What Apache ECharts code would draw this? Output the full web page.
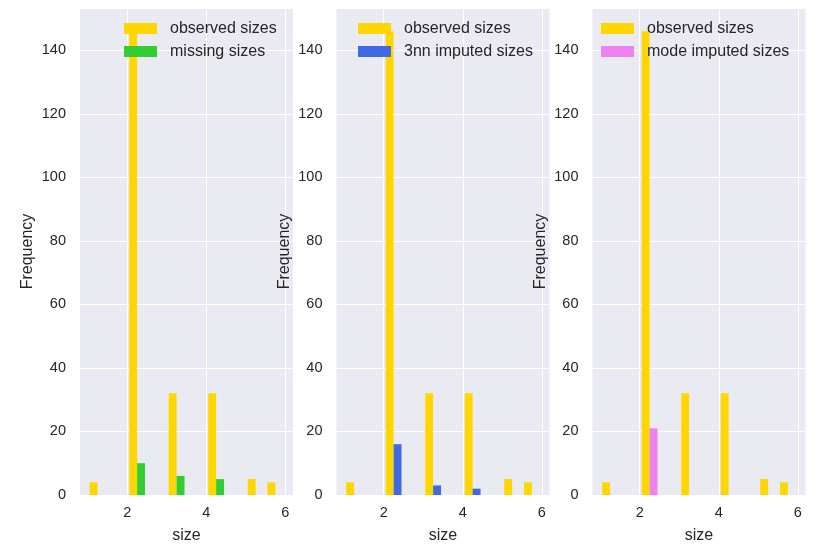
<!DOCTYPE html>
<html>
<head>
<meta charset="utf-8">
<script src="https://cdn.jsdelivr.net/npm/echarts@6/dist/echarts.min.js"></script>
<style>
html,body{margin:0;padding:0;background:#fff;}
#c{width:822px;height:559px;}
</style>
</head>
<body>
<div id="c"></div>
<script>
// ---- data ----
const binEdges = [1, 1.5, 2, 2.5, 3, 3.5, 4, 4.5, 5, 5.5, 6];
const observedCounts = [4, 0, 146, 0, 32, 0, 32, 0, 5, 4];
const missingCounts  = [0, 0, 10, 0, 6, 0, 5, 0, 0, 0];
const knnCounts      = [0, 0, 16, 0, 3, 0, 2, 0, 0, 0];
const modeCounts     = [0, 0, 21, 0, 0, 0, 0, 0, 0, 0];
const xTicks = [2, 4, 6];
const yTickStep = 20;
const panelNames = [
  ['observed sizes', 'missing sizes'],
  ['observed sizes', '3nn imputed sizes'],
  ['observed sizes', 'mode imputed sizes']
];
const panelCounts = [
  [observedCounts, missingCounts],
  [observedCounts, knnCounts],
  [observedCounts, modeCounts]
];
const panelColors = [
  ['#FFD700', '#32CD32'],
  ['#FFD700', '#4169E1'],
  ['#FFD700', '#EE82EE']
];
const xLabel = 'size';
const yLabel = 'Frequency';

// ---- layout ----
const FONT = '"Liberation Sans", Arial, sans-serif';
const TXT = '#262626';
const gridLefts = [80, 336.5, 592.5];
const gridW = 213, gridTop = 8, gridH = 487;
const rwidth = 0.8;

// matplotlib-like side-by-side histogram bars
function histBars(counts, k, n) {
  const out = [];
  for (let i = 0; i < counts.length; i++) {
    const b0 = binEdges[i], b1 = binEdges[i + 1];
    const bw = b1 - b0;
    const w = bw * rwidth / n;
    const start = b0 + bw * (1 - rwidth) / 2 + k * w;
    out.push([start, start + w, counts[i]]);
  }
  return out;
}

// axis limits like matplotlib autoscale with 5% margins
const barMin = binEdges[0] + (binEdges[1] - binEdges[0]) * (1 - rwidth) / 2;
const lastW = binEdges[binEdges.length - 1] - binEdges[binEdges.length - 2];
const barMax = binEdges[binEdges.length - 1] - lastW * (1 - rwidth) / 2;
const span = barMax - barMin;
const xMin = barMin - 0.05 * span, xMax = barMax + 0.05 * span;
const allMax = Math.max(...observedCounts, ...missingCounts, ...knnCounts, ...modeCounts);
const yMax = allMax * 1.05;

const grids = [], xAxes = [], yAxes = [], series = [], legends = [];
const legendLefts = [124, 358, 601];

function renderItem(params, api) {
  const p0 = api.coord([api.value(0), api.value(2)]);
  const p1 = api.coord([api.value(1), 0]);
  return {
    type: 'rect',
    shape: { x: p0[0], y: p0[1], width: p1[0] - p0[0], height: p1[1] - p0[1] },
    style: { fill: api.visual('color') }
  };
}

for (let p = 0; p < 3; p++) {
  grids.push({
    left: gridLefts[p], top: gridTop, width: gridW, height: gridH,
    show: true, backgroundColor: '#EAEAF2', borderWidth: 0
  });
  xAxes.push({
    type: 'value', gridIndex: p, min: xMin, max: xMax, z: 1.5,
    name: xLabel, nameLocation: 'middle', nameGap: 33,
    nameTextStyle: { fontSize: 16, color: TXT, fontFamily: FONT },
    axisLine: { show: false }, axisTick: { show: false },
    splitLine: { show: false },
    axisLabel: { customValues: xTicks, fontSize: 14.5, color: TXT, fontFamily: FONT, margin: 10 }
  });
  yAxes.push({
    type: 'value', gridIndex: p, min: 0, max: yMax, interval: yTickStep, z: 1.5,
    name: yLabel, nameLocation: 'middle', nameGap: 44, nameRotate: 90,
    nameTextStyle: { fontSize: 16, color: TXT, fontFamily: FONT },
    axisLine: { show: false }, axisTick: { show: false },
    splitLine: { show: true, lineStyle: { color: '#ffffff', width: 1 } },
    axisLabel: { fontSize: 14.5, color: TXT, fontFamily: FONT, margin: 14, showMaxLabel: false }
  });
  for (let k = 0; k < 2; k++) {
    const s = {
      type: 'custom', name: panelNames[p][k],
      xAxisIndex: p, yAxisIndex: p,
      renderItem: renderItem,
      itemStyle: { color: panelColors[p][k] },
      encode: { x: [0, 1], y: 2 },
      data: histBars(panelCounts[p][k], k, 2),
      silent: true, animation: false
    };
    if (k === 0) {
      s.markLine = {
        silent: true, symbol: 'none', z: 1, animation: false,
        label: { show: false },
        lineStyle: { color: '#ffffff', width: 1, type: 'solid' },
        data: xTicks.map(v => ({ xAxis: v }))
      };
    }
    series.push(s);
  }
  legends.push({
    left: legendLefts[p], top: 20.5, orient: 'vertical', padding: 0,
    data: panelNames[p], icon: 'rect', itemWidth: 33, itemHeight: 11, itemGap: 7,
    selectedMode: false,
    textStyle: { fontSize: 16, lineHeight: 16, color: TXT, fontFamily: FONT, padding: [0, 0, 0, 8] }
  });
}

const chart = echarts.init(document.getElementById('c'), null, { renderer: 'canvas' });
chart.setOption({
  animation: false,
  backgroundColor: '#ffffff',
  grid: grids, xAxis: xAxes, yAxis: yAxes, series: series, legend: legends
});
</script>
</body>
</html>
